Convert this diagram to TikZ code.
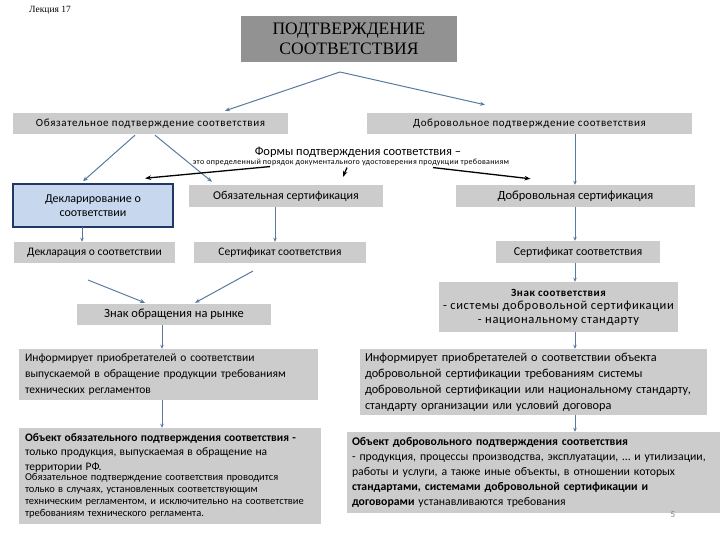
\documentclass[tikz,border=0pt]{standalone}
\usepackage{fontspec}
\setmainfont{Carlito}
\newfontfamily\serif{Liberation Serif}
\usetikzlibrary{arrows.meta}
\definecolor{boxgray}{RGB}{204,204,204}
\definecolor{titlegray}{RGB}{146,146,146}
\definecolor{arrc}{RGB}{88,122,160}
\definecolor{bluefill}{RGB}{198,215,238}
\definecolor{blueline}{RGB}{31,56,100}
\newcommand{\fs}[2]{\fontsize{#1}{#2}\selectfont}
\newcommand{\ls}[1]{\addfontfeature{LetterSpace=#1}}
\tikzset{
  gbox/.style={fill=boxgray, draw=none, inner sep=0pt, align=center},
  arr/.style={draw=arrc, line width=1pt, -{Stealth[length=5pt,width=4pt]}},
  varr/.style={draw=arrc, line width=0.7pt, -{Stealth[length=4pt,width=3.5pt]}},
  blk/.style={draw=black, line width=1.3pt, -{Stealth[length=6pt,width=4.5pt]}},
}
\begin{document}
\begin{tikzpicture}[x=1pt,y=-1pt]
\useasboundingbox (0,0) rectangle (720,540);
% header
\node[inner sep=0pt, anchor=west, font=\serif\fs{9.5}{10}] (lect) at (29,10) {Лекция 17};
\node[fill=titlegray, inner sep=0pt, minimum width=216pt, minimum height=46pt, align=center, font=\serif\fs{17.5}{19.5}] (title) at (349,39) {ПОДТВЕРЖДЕНИЕ\\СООТВЕТСТВИЯ};
% level 1
\node[gbox, minimum width=275pt, minimum height=21pt, font=\fs{11}{12}\ls{6}] (oblig) at (150.5,123.5) {Обязательное подтверждение соответствия};
\node[gbox, minimum width=325pt, minimum height=21pt, font=\fs{11}{12}\ls{6}] (volun) at (529.5,123.5) {Добровольное подтверждение соответствия};
% forms text
\node[inner sep=0pt, font=\fs{12.5}{13}] (forms) at (358,152) {Формы подтверждения соответствия –};
\node[inner sep=0pt, font=\fs{8}{9}\ls{4}] (def) at (351,162) {это определенный порядок документального удостоверения продукции требованиям};
% level 2
\node[fill=bluefill, draw=blueline, line width=1.5pt, inner sep=0pt, minimum width=160pt, minimum height=43pt, align=center, font=\fs{12}{14}] (decl) at (93,205.5) {Декларирование о\\соответствии};
\node[gbox, minimum width=194pt, minimum height=22pt, font=\fs{12}{13}] (obcert) at (286,196) {Обязательная сертификация};
\node[gbox, minimum width=239pt, minimum height=22pt, font=\fs{12.5}{13}] (volcert) at (575.5,196) {Добровольная сертификация};
% level 3
\node[gbox, minimum width=161pt, minimum height=21pt, font=\fs{11.5}{13}] (declar) at (94.5,252.5) {Декларация о соответствии};
\node[gbox, minimum width=172pt, minimum height=21pt, font=\fs{11.5}{13}] (certL) at (280,252.5) {Сертификат соответствия};
\node[gbox, minimum width=164pt, minimum height=22pt, font=\fs{12}{13}] (certR) at (578,252) {Сертификат соответствия};
% marks
\node[gbox, minimum width=194pt, minimum height=21pt, font=\fs{12.5}{13}] (markL) at (174,314.5) {Знак обращения на рынке};
\node[gbox, minimum width=239pt, minimum height=50pt, font=\fs{12.5}{13.5}\ls{5}] (markR) at (558.5,307) {{\bfseries\fs{11}{13.5}Знак соответствия}\\- системы добровольной сертификации\\- национальному стандарту};
% info
\node[gbox, minimum width=299pt, minimum height=51pt, text width=287pt, align=left, font=\fs{11.5}{16}] (infoL) at (168.5,374.5) {Информирует приобретателей о соответствии\\выпускаемой в обращение продукции требованиям\\технических регламентов};
\node[gbox, minimum width=347pt, minimum height=66pt, text width=337pt, align=left, font=\fs{12.3}{16}] (infoR) at (533.5,382) {Информирует приобретателей о соответствии объекта\\добровольной сертификации требованиям системы\\добровольной сертификации или национальному стандарту,\\стандарту организации или условий договора};
% objects
\node[gbox, minimum width=302pt, minimum height=96pt, text width=290pt, align=left] (objL) at (170,476) {\fs{11.5}{14.5}\textbf{Объект обязательного подтверждения соответствия -}\\только продукция, выпускаемая в обращение на\\территории РФ.\\[-1.5pt]
{\fs{10.5}{12}Обязательное подтверждение соответствия проводится\\только в случаях, установленных соответствующим\\техническим регламентом, и исключительно на соответствие\\требованиям технического регламента.}};
\node[gbox, minimum width=373pt, minimum height=81pt, text width=363pt, align=left, font=\fs{11.75}{15}] (objR) at (533.5,472.5) {\textbf{Объект добровольного подтверждения соответствия}\\- продукция, процессы производства, эксплуатации, … и утилизации,\\работы и услуги, а также иные объекты, в отношении которых\\\textbf{стандартами, системами добровольной сертификации и}\\\textbf{договорами} устанавливаются требования};
\node[inner sep=0pt, font=\fs{9}{10}, text=gray] (pnum) at (673,515) {5};
% connectors
\coordinate (ts) at (340,72);
\draw[arr] (ts) -- ([xshift=74.5pt,yshift=2pt]oblig.north);
\draw[arr] (ts) -- ([xshift=-44.5pt,yshift=8pt]volun.north);
\draw[arr] ([xshift=-15.5pt,yshift=-1pt]oblig.south) -- ([xshift=-10pt,yshift=2pt]decl.north);
\draw[arr] ([xshift=4.5pt,yshift=-1pt]oblig.south) -- ([xshift=-74pt,yshift=3pt]obcert.north);
\draw[varr] ([xshift=45.5pt]volun.south) -- ([xshift=-0.5pt]volcert.north);
\draw[blk] ([xshift=-81pt,yshift=-1pt]def.south) -- ([xshift=52pt,yshift=5pt]decl.north);
\draw[blk] ([xshift=-4pt,yshift=-2pt]def.south) -- ([xshift=57pt,yshift=8pt]obcert.north);
\draw[blk] ([xshift=82pt,yshift=-2pt]def.south) -- ([xshift=-45pt,yshift=6pt]volcert.north);
\draw[varr] ([xshift=-11pt,yshift=1pt]decl.south) -- ([xshift=-12.5pt]declar.north);
\draw[varr] ([xshift=-11pt]obcert.south) -- ([xshift=-5pt]certL.north);
\draw[varr] ([xshift=-0.5pt]volcert.south) -- ([xshift=-3pt]certR.north);
\coordinate (a1) at (88,280);
\coordinate (a2) at (253,271);
\draw[arr] (a1) -- ([xshift=-29pt,yshift=1pt]markL.north);
\draw[arr] (a2) -- ([xshift=21pt,yshift=1pt]markL.north);
\draw[varr] ([xshift=-3pt]certR.south) -- ([xshift=16.5pt]markR.north);
\draw[varr] ([xshift=16.5pt]markR.south) -- ([xshift=41.5pt]infoR.north);
\draw[varr] ([xshift=-12pt]markL.south) -- ([xshift=-6.5pt]infoL.north);
\draw[varr] ([xshift=-6.5pt]infoL.south) -- ([xshift=-8pt]objL.north);
\draw[varr] ([xshift=41.5pt]infoR.south) -- ([xshift=41.5pt]objR.north);
\end{tikzpicture}
\end{document}
